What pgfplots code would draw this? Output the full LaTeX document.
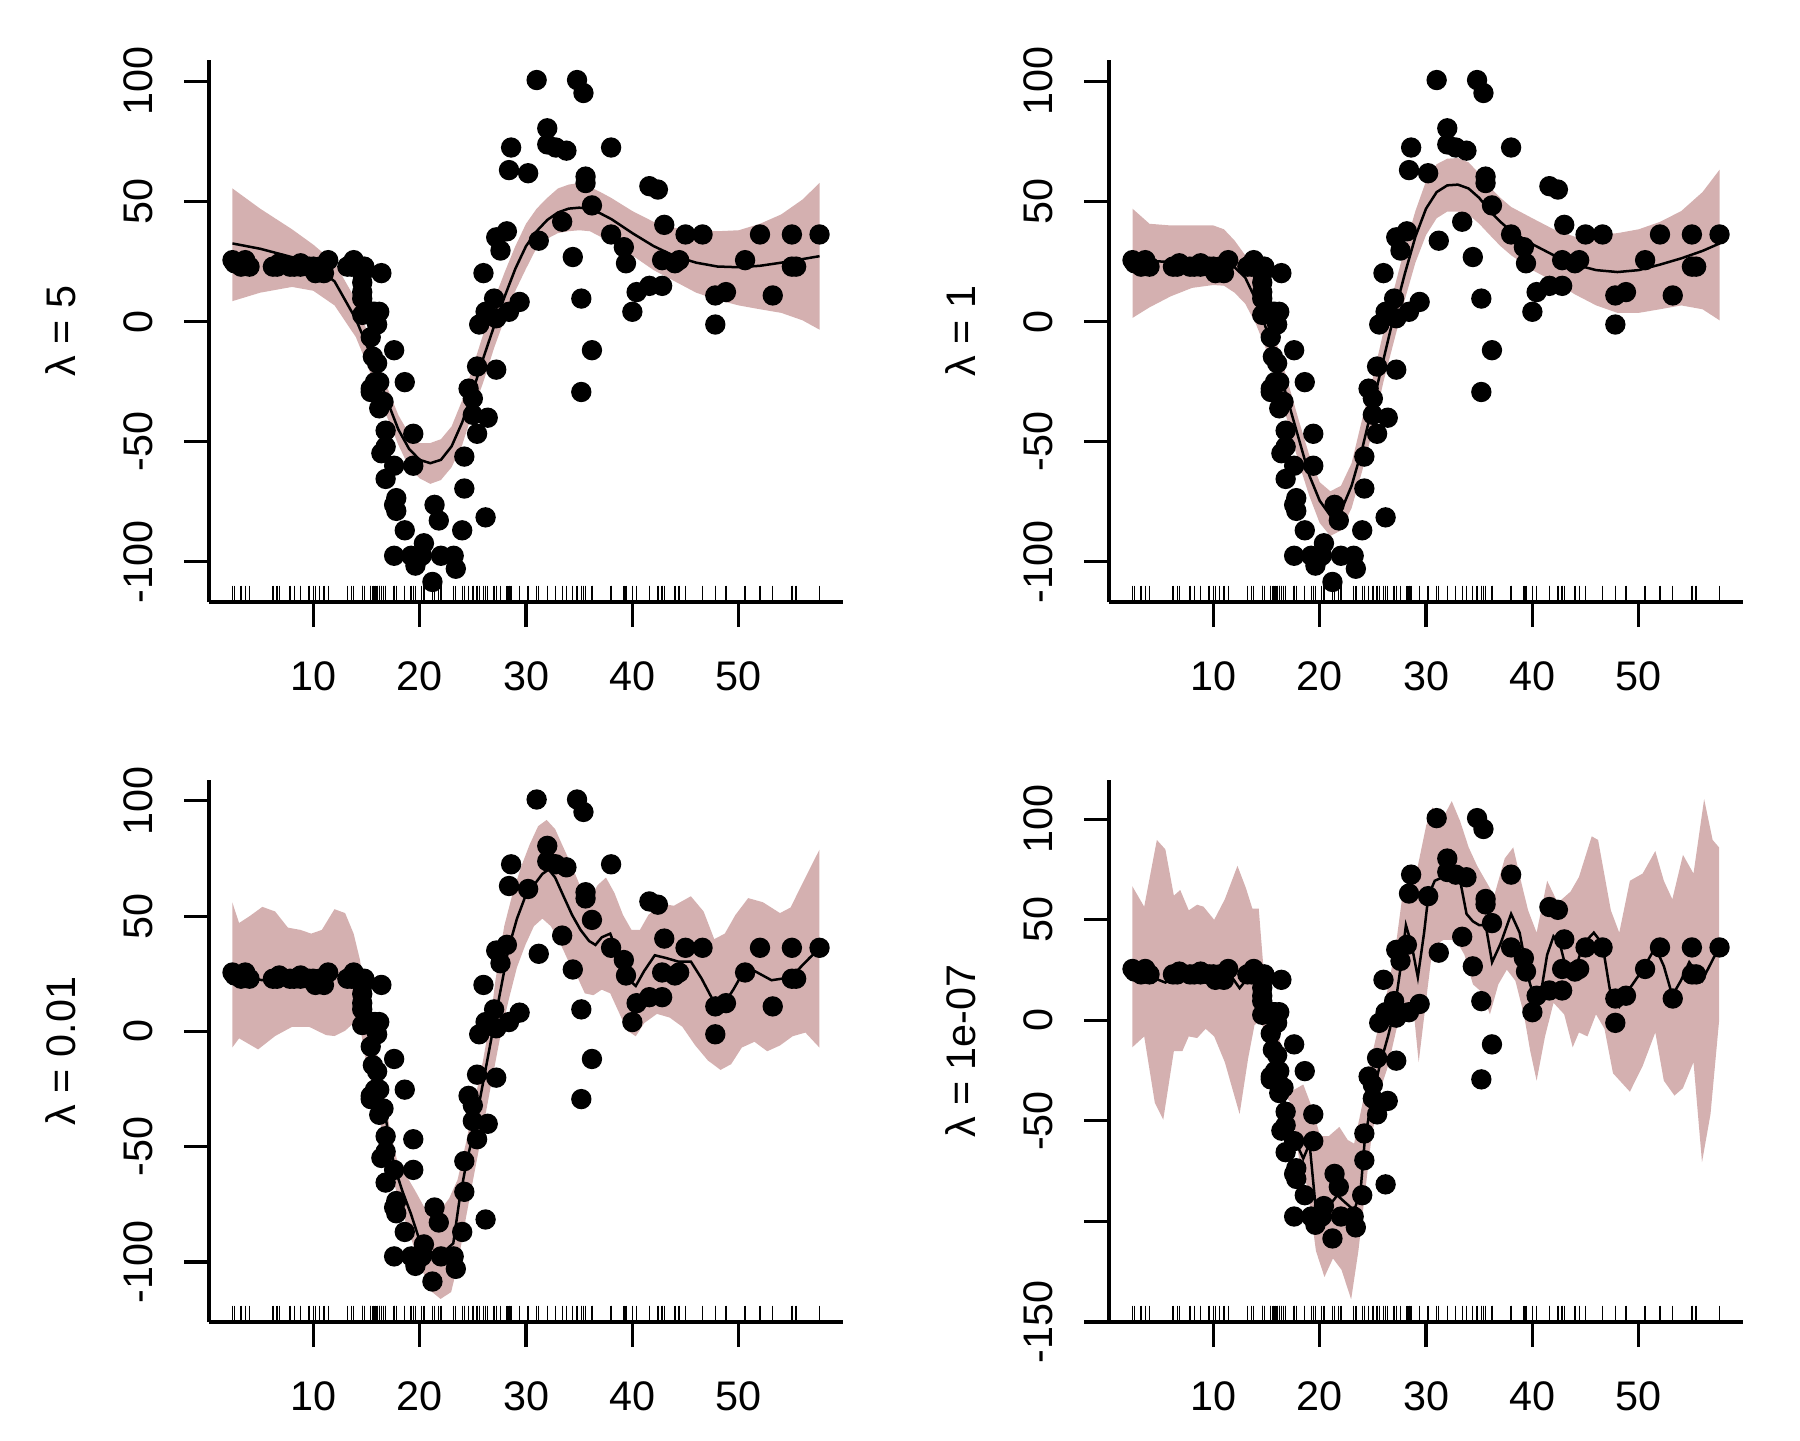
\documentclass[border=0pt]{standalone}
\usepackage{fontspec}
\setmainfont{Liberation Sans}
\usepackage{pgfplots}
\usepgfplotslibrary{fillbetween}
\pgfplotsset{compat=1.18}
\usepackage{pgfplotstable}
\definecolor{bandcol}{RGB}{212,176,176}

\pgfplotstableread{
t y
2.4 25.55
2.6 24.25
3.2 22.85
3.6 25.55
4.0 22.85
6.2 22.85
6.6 22.85
6.8 24.25
7.8 22.85
8.2 22.85
8.8 24.25
8.8 22.85
9.6 22.85
10.0 22.85
10.2 20.15
10.6 22.85
11.0 20.15
11.4 25.55
13.2 22.85
13.6 22.85
13.8 25.55
14.6 12.25
14.6 20.15
14.6 20.15
14.6 16.25
14.6 9.55
14.6 2.75
14.8 22.85
15.4 2.75
15.4 -6.55
15.4 -27.95
15.4 -29.35
15.6 -14.65
15.6 4.05
15.8 4.05
15.8 -25.25
16.0 -17.35
16.0 -1.25
16.2 4.05
16.2 -25.25
16.2 -36.15
16.4 20.15
16.4 -54.85
16.6 -33.45
16.8 -45.45
16.8 -65.55
16.8 -52.15
17.6 -11.95
17.6 -60.05
17.6 -97.55
17.6 -76.35
17.8 -73.55
17.8 -78.85
18.6 -86.95
18.6 -25.25
19.2 -97.55
19.4 -60.05
19.4 -46.75
19.6 -101.65
20.2 -97.55
20.4 -92.35
21.2 -108.45
21.4 -76.35
21.8 -82.85
22.0 -97.55
23.2 -97.55
23.4 -102.95
24.0 -86.95
24.2 -69.55
24.2 -56.25
24.6 -27.95
25.0 -38.85
25.0 -32.05
25.4 -46.75
25.4 -18.75
25.6 -1.25
26.0 20.15
26.2 -81.55
26.2 4.05
26.4 -40.05
27.0 9.55
27.2 -20.05
27.2 1.35
27.2 35.05
27.6 29.55
28.2 37.55
28.4 4.05
28.4 63.05
28.6 72.45
29.4 8.15
30.2 61.75
31.0 100.55
31.2 33.65
32.0 80.45
32.0 73.75
32.8 72.45
33.4 41.55
33.8 71.15
34.4 26.85
34.8 100.55
35.2 9.55
35.2 -29.35
35.4 95.15
35.6 60.35
35.6 57.65
36.2 -11.95
36.2 48.35
38.0 72.45
38.0 36.25
39.2 30.95
39.4 24.25
40.0 4.05
40.4 12.25
41.6 56.35
41.6 14.85
42.4 54.95
42.8 25.55
42.8 14.85
43.0 40.25
44.0 24.25
44.4 25.55
45.0 36.25
46.6 36.25
47.8 -1.25
47.8 10.85
48.8 12.25
50.6 25.55
52.0 36.25
53.2 10.85
55.0 22.85
55.0 36.25
55.4 22.85
57.6 36.25
}\mcycle

\pgfplotsset{
  rpanel/.style={
    scale only axis, width=190.2pt, height=162.6pt,
    xmin=0.192, xmax=59.808,
    axis lines=left,
    axis line style={-, line width=0.95pt, black},
    tick align=outside, major tick length=7.5pt,
    every tick/.style={black, line width=0.95pt},
    xtick={10,20,30,40,50}, xticklabels={10,20,30,40,50},
    xticklabel style={anchor=base, yshift=-19.0pt, font=\fontsize{12.4}{14}\selectfont},
    yticklabel style={xshift=-9.4pt, rotate=90, anchor=base, font=\fontsize{12.4}{14}\selectfont},
    every axis y label/.style={at={(axis description cs:0,0.5)}, xshift=-40.2pt, rotate=90, anchor=base, font=\fontsize{12.4}{14}\selectfont},
    clip=false,
  },
  pts/.style={only marks, mark=*, mark size=2.85pt, black, mark options={fill=black, draw=black}},
  rug/.style={only marks, mark=|, mark size=2.45pt, black, mark options={line width=0.4pt, yshift=2.45pt}},
  fitline/.style={black, line width=0.75pt, no marks},
}

\begin{document}
\begin{tikzpicture}

% ---------- panel 1: lambda = 5
\begin{axis}[rpanel, at={(62.7pt,251.4pt)}, anchor=south west,
  ymin=-116.8, ymax=108.9,
  ytick={-100,-50,0,50,100}, yticklabels={-100,-50,0,50,100},
  ylabel={λ = 5}]
\addplot[name path=U1, draw=none] coordinates {(2.4,55.4)(5,47)(8,38.4)(10,32)(12,24.5)(14,9)(15,-3.4)(16,-15.8)(17,-28)(18,-39)(19,-46.7)(20,-50.6)(21,-50.6)(22,-49)(23,-43.7)(24,-32.8)(25,-18.9)(26,-5)(27,9)(28,20.6)(29,31.4)(30,40.7)(31,47)(32,51.5)(33,55.4)(34,57)(35,57.7)(36,56)(37,53.9)(38,51.5)(40,46)(42,41.5)(44,39)(46,38)(48,37.6)(50,38)(52,40.7)(54,44.6)(56,50.8)(57.6,57.7)};
\addplot[name path=L1, draw=none] coordinates {(2.4,8.5)(5,12)(8,14.4)(10,12.8)(12,6.7)(14,-6.5)(15,-17.3)(16,-29)(17,-40.5)(18,-51.4)(19,-60.7)(20,-65.3)(21,-67.6)(22,-66)(23,-60.7)(24,-51.4)(25,-37.5)(26,-25)(27,-11)(28,1.2)(29,12.8)(30,22)(31,30.7)(32,34.5)(33,36.8)(34,37.6)(35,38)(36,37.6)(37,35.3)(38,33)(40,27.5)(42,21.4)(44,16.7)(46,12)(48,9)(50,6.7)(52,5.1)(54,3.6)(56,0.5)(57.6,-3.4)};
\addplot[bandcol, draw=none] fill between[of=U1 and L1];
\addplot[fitline] coordinates {(2.4,32.5)(5,30.3)(8,26.8)(10,23.7)(12,16.7)(14,1)(15,-9.6)(16,-21)(17,-33.6)(18,-45)(19,-53)(20,-57.6)(21,-59)(22,-57.6)(23,-52)(24,-42)(25,-29)(26,-15)(27,-1.9)(28,10.5)(29,22)(30,31.4)(31,37.6)(32,42.3)(33,45.4)(34,47)(35,47.4)(36,47)(37,45)(38,42.7)(40,36.8)(42,31.4)(44,27.2)(46,24.5)(48,22.9)(50,22.6)(52,23.2)(54,24.5)(56,26)(57.6,27.2)};
\addplot[pts] table[x=t, y=y] {\mcycle};
\addplot[rug] table[x=t, y expr=-116.8] {\mcycle};
\end{axis}

% ---------- panel 2: lambda = 1
\begin{axis}[rpanel, at={(332.7pt,251.4pt)}, anchor=south west,
  ymin=-116.8, ymax=108.9,
  ytick={-100,-50,0,50,100}, yticklabels={-100,-50,0,50,100},
  ylabel={λ = 1}]
\addplot[name path=U2, draw=none] coordinates {(2.4,47)(4,40.7)(6,40)(8,40)(10,40)(11,38.4)(12,33.7)(13,27.6)(14,18.3)(15,4.3)(16,-9.6)(17,-25)(18,-40.6)(19,-55.3)(20,-66.9)(21,-70.7)(22,-68.4)(23,-59)(24,-40.6)(25,-23.5)(26,-4.2)(27,13.6)(28,30.7)(29,46)(30,58.5)(31,65.5)(32,67.8)(33,68.1)(34,66.3)(35,61.6)(36,56)(37,51.5)(38,47.7)(40,43)(42,38.4)(44,35.3)(46,36)(48,36.8)(50,38.4)(52,41.5)(54,46)(56,53.9)(57.6,63.2)};
\addplot[name path=L2, draw=none] coordinates {(2.4,1.5)(4,5.9)(6,10.5)(8,14)(10,15.2)(11,14.9)(12,12)(13,7.4)(14,-1)(15,-12)(16,-25.9)(17,-42)(18,-58.4)(19,-72.3)(20,-83.9)(21,-89.3)(22,-87)(23,-77.7)(24,-62.2)(25,-45.2)(26,-25)(27,-8)(28,9)(29,24.5)(30,36)(31,43)(32,45.8)(33,45.8)(34,44.6)(35,40.7)(36,36)(37,31.4)(38,27.6)(40,21.4)(42,16.7)(44,11.3)(46,6.7)(48,3.6)(50,3.6)(52,5.1)(54,6.7)(56,5.1)(57.6,0.5)};
\addplot[bandcol, draw=none] fill between[of=U2 and L2];
\addplot[fitline] coordinates {(2.4,25.7)(4,25.2)(6,24.8)(8,24.5)(10,24.5)(11,24.1)(12,22.6)(13,18.3)(14,9)(15,-3.4)(16,-17.3)(17,-32.8)(18,-48.3)(19,-63.8)(20,-74.6)(21,-80.8)(22,-79)(23,-68.4)(24,-53)(25,-34.4)(26,-15.8)(27,2.8)(28,19.8)(29,35.3)(30,47)(31,53.9)(32,56.7)(33,57)(34,55.4)(35,51.5)(36,46)(37,41.5)(38,37.6)(40,32.2)(42,27.6)(44,23.7)(46,21.4)(48,20.6)(50,21.4)(52,23.7)(54,26.3)(56,29.4)(57.6,32.5)};
\addplot[pts] table[x=t, y=y] {\mcycle};
\addplot[rug] table[x=t, y expr=-116.8] {\mcycle};
\end{axis}

% ---------- panel 3: lambda = 0.01
\begin{axis}[rpanel, at={(62.7pt,35.4pt)}, anchor=south west,
  ymin=-126, ymax=109,
  ytick={-100,-50,0,50,100}, yticklabels={-100,-50,0,50,100},
  ylabel={λ = 0.01}]
\addplot[name path=U3, draw=none] coordinates {(2.38,56)(3.02,47)(4.02,50)(5.21,54)(6.41,52)(7.61,45)(8.80,44)(9.80,42.4)(10.80,44)(11.99,53)(12.99,51.3)(13.79,42.4)(14.39,31)(14.99,13)(15.58,0.3)(16.38,-19)(17.18,-41.7)(17.98,-58)(18.78,-62.8)(19.57,-69)(20.37,-75.7)(21.17,-79)(21.97,-77.3)(22.76,-72.5)(23.56,-64.4)(24.36,-48.2)(25.16,-30.4)(25.96,-12.6)(26.75,8.4)(27.15,23)(27.95,45.6)(28.75,60)(29.55,71.5)(30.34,81)(31.14,89)(31.94,91.7)(32.74,87.7)(33.53,79.6)(34.33,71.5)(35.13,62.6)(35.93,57)(36.73,63.4)(37.52,66.7)(38.32,60)(39.12,50.5)(39.92,44)(40.71,44)(41.51,50.5)(42.71,55.3)(43.91,54.5)(45.5,58.6)(46.7,52)(47.7,40)(48.69,42.4)(49.69,50.5)(50.89,57.8)(52.28,56)(53.88,51.3)(54.87,53.7)(56.27,66.7)(57.59,78.8)};
\addplot[name path=L3, draw=none] coordinates {(2.38,-7)(3.02,-3)(4.81,-7.8)(6.41,-2)(8.01,2)(9.60,2)(11.20,-1.6)(11.99,-2)(12.99,0.3)(13.79,3.6)(14.39,3)(14.79,-9.4)(15.58,-24)(16.38,-41.7)(17.18,-58)(17.98,-72.5)(18.78,-84)(19.57,-95)(20.37,-105)(21.17,-113)(21.97,-116)(22.96,-113)(23.56,-101.6)(24.36,-80.6)(25.16,-61)(25.96,-41.7)(26.75,-22.3)(27.55,-3)(28.35,13.3)(29.15,27.8)(29.94,37.5)(30.74,45.6)(31.54,48.9)(32.34,45.6)(33.14,39)(33.93,31)(34.73,24.6)(35.53,16.5)(36.33,15.7)(37.12,18.1)(37.92,16.5)(38.72,8.4)(39.52,0.3)(40.32,-2.1)(41.11,3.6)(42.31,7.6)(43.51,6)(44.70,2)(45.90,-6)(47.10,-12.6)(48.29,-16.7)(49.29,-14.2)(50.29,-7)(51.48,-4.5)(52.68,-8.6)(53.88,-6.1)(55.07,-2.1)(56.27,-0.5)(57.59,-7)};
\addplot[bandcol, draw=none] fill between[of=U3 and L3];
\addplot[fitline] coordinates {(2.4,24.9)(5.2,22.2)(9.2,23)(12.4,24.3)(14.0,23)(14.39,16.5)(15.19,0.3)(15.98,-15.9)(16.78,-36.9)(17.58,-57.9)(18.38,-69.3)(19.17,-79)(19.97,-90.3)(20.77,-95.1)(21.57,-96.8)(22.37,-95.1)(23.16,-91.9)(23.76,-72.5)(24.36,-57.9)(25.16,-41.7)(25.96,-22.3)(26.75,-2.9)(27.55,16.5)(28.35,35.9)(29.15,48.9)(29.94,58.6)(30.74,63.4)(31.54,68.3)(32.14,70.2)(32.74,66.7)(33.53,58.6)(34.33,50.5)(35.13,44)(35.93,39.2)(36.53,37.5)(37.12,40.8)(37.92,42.4)(38.72,32.7)(39.52,23)(40.32,19.7)(41.11,26.2)(42.11,33)(43.11,31.9)(44.3,30.3)(45.5,30.3)(46.5,23)(47.7,12.5)(48.69,12.5)(49.49,18.1)(50.49,26.2)(51.49,26.2)(53.08,22.2)(54.28,23)(55.47,26.2)(56.67,31.9)(57.59,35.9)};
\addplot[pts] table[x=t, y=y] {\mcycle};
\addplot[rug] table[x=t, y expr=-126] {\mcycle};
\end{axis}

% ---------- panel 4: lambda = 1e-07
\begin{axis}[rpanel, at={(332.7pt,35.4pt)}, anchor=south west,
  ymin=-150, ymax=119.5,
  ytick={-150,-100,-50,0,50,100}, yticklabels={-150,,-50,0,50,100},
  ylabel={λ = 1e-07}]
\addplot[name path=U4, draw=none] coordinates {(2.38,66.7)(3.50,56.5)(4.69,89.7)(5.49,85)(6.29,62)(6.89,64.8)(7.69,54.7)(8.48,57.5)(9.08,56.5)(10.08,50)(11.08,60.2)(12.27,76.8)(13.07,65.7)(13.67,55.6)(14.27,55.6)(14.67,29)(15.46,10.5)(16.46,-15.3)(17.26,-35.5)(18.46,-31.9)(19.25,-43)(20.05,-57.6)(20.85,-57.6)(21.85,-53)(22.64,-59.5)(23.24,-61.3)(24.04,-41)(24.84,-19)(25.64,-0.6)(26.43,16)(27.23,40)(27.83,64)(28.43,65.7)(29.23,76.8)(30.02,97)(30.62,106)(31.42,99)(32.42,109)(33.21,99)(34.01,86)(34.81,76.8)(35.61,69.4)(36.41,62)(37.40,80.5)(38.20,86)(39.00,67.6)(39.60,54.7)(40.40,43.6)(41.39,69.4)(42.39,58.4)(43.59,64)(44.38,71.3)(45.58,91.5)(46.18,89.7)(47.38,54.7)(48.17,43.6)(49.17,69.4)(50.37,73)(51.56,84.2)(52.36,69.4)(53.16,60.2)(54.16,82.3)(55.15,73)(56.15,110)(56.95,89.7)(57.55,86)};
\addplot[name path=L4, draw=none] coordinates {(2.38,-13.4)(3.50,-8)(4.50,-41)(5.29,-49.4)(6.29,-15.3)(7.09,-15.3)(7.69,-8)(8.48,-8.8)(9.28,-4.2)(10.08,-8)(11.08,-20.8)(12.47,-46.6)(13.27,-19)(13.87,-2.4)(14.27,-0.6)(14.87,-4.2)(15.66,-20.8)(16.46,-35.5)(17.26,-41)(18.06,-68.7)(18.86,-83.4)(19.65,-114.7)(20.45,-127.6)(21.25,-118.4)(22.05,-124)(22.96,-138.7)(23.64,-114.7)(24.24,-87)(24.84,-59.5)(25.64,-35.5)(26.43,-22.7)(27.23,-4.2)(28.03,3)(28.83,5)(29.31,-20.8)(30.02,10.5)(30.62,36.3)(31.62,40)(32.82,40)(33.61,32.6)(34.41,17.9)(35.21,14.2)(36.01,3)(36.80,17.9)(37.60,25.2)(38.40,19.7)(39.20,3)(39.80,-15.3)(40.40,-30)(41.19,-8)(41.99,8.7)(42.99,3)(43.79,-13.4)(44.38,-6)(45.18,-8)(45.98,3)(46.78,-4.2)(47.58,-26.3)(49.17,-35.5)(50.37,-22.7)(51.56,-6)(52.36,-30)(53.36,-37.4)(54.16,-33.7)(55.15,-20.8)(55.95,-70.5)(56.75,-46.6)(57.55,-0.6)};
\addplot[bandcol, draw=none] fill between[of=U4 and L4];
\addplot[fitline] coordinates {(2.38,22)(3.7,22.5)(5.49,18.8)(6.49,22)(9.68,22)(11.68,22)(12.47,16)(13.07,20)(13.67,27)(14.47,21.5)(14.87,10.5)(15.27,-2.4)(15.66,-11.6)(16.06,-22.7)(16.46,-33.7)(16.86,-44.8)(17.66,-59.5)(18.46,-68.7)(19.05,-61.3)(19.65,-94.5)(20.05,-94.5)(20.85,-92.6)(21.65,-87)(22.45,-90.8)(23.24,-94.5)(23.84,-85.3)(24.24,-59.5)(24.84,-41)(25.64,-22.7)(26.43,-7.9)(27.03,5)(27.63,27)(28.11,47.3)(28.63,38)(29.23,21.5)(29.82,43.6)(30.22,62)(30.82,69.4)(31.62,71.3)(32.42,73)(33.21,69.4)(33.81,52.9)(34.41,49.2)(35.01,47.3)(35.61,47.3)(36.21,28.9)(37.00,38)(38.00,52.9)(38.80,43.6)(39.60,21.5)(40.20,10.5)(40.79,13.3)(41.39,32.6)(41.99,41.8)(42.59,38)(43.19,25.2)(43.98,24.3)(44.78,38)(45.78,43.6)(46.58,38)(47.38,12.3)(48.17,6.8)(49.17,16)(50.37,25.2)(51.56,36.3)(52.36,27)(53.16,12.3)(53.96,19.7)(54.75,28.9)(55.95,19.7)(57.55,36.3)};
\addplot[pts] table[x=t, y=y] {\mcycle};
\addplot[rug] table[x=t, y expr=-150] {\mcycle};
\end{axis}

\path (0,0) rectangle (540pt,432pt);
\end{tikzpicture}
\end{document}
